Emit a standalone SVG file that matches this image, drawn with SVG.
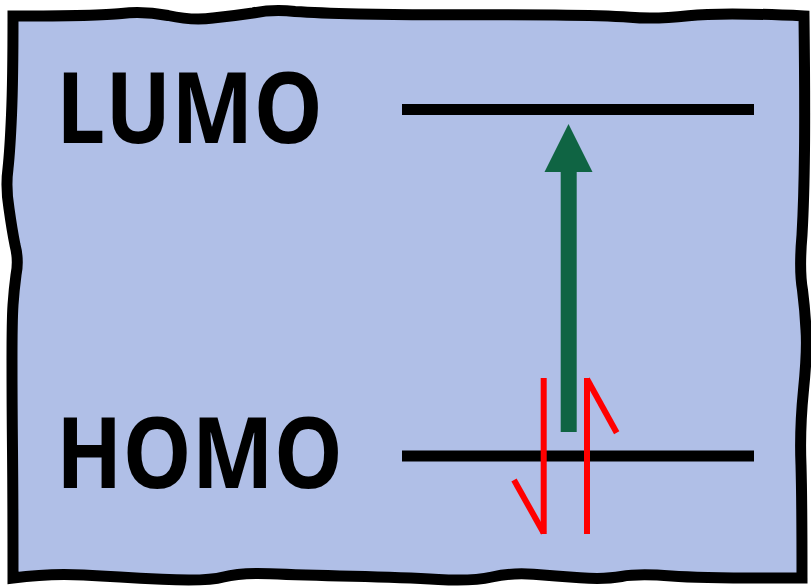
<svg xmlns="http://www.w3.org/2000/svg" width="811" height="587" viewBox="0 0 811 587">
  <defs>
    <style>
      .lbl { font-family: "Open Sans", "Noto Sans", "Liberation Sans", sans-serif; font-weight: 700; font-size: 98px; fill: #000; }
      .level { stroke: #000; stroke-width: 11; fill: none; }
      .spin { stroke: #ff0000; stroke-width: 6; fill: none; stroke-linecap: butt; }
    </style>
  </defs>
  <rect width="811" height="587" fill="#ffffff"/>
  <g id="frame">
    <path d="M13,16 Q100,16 121.5,13.5 Q143,11 168,15.5 Q193,21 213,18 Q233,16 253,13 Q273,9 295,11.5 Q317,13 358.5,14 Q400,15 452.5,14.75 Q505,14.5 555,15 Q605,15.5 630,17.25 Q655,19.5 688.5,15.75 Q722,12 804,16 Q805,100 804.5,150 Q804,200 802,235 Q799,270 802.5,290 Q805,310 806,330 Q807.5,350 803.5,390 Q799.5,430 801,465 Q802,500 802,578 Q705,578.5 671.5,576 Q638,573.5 621.5,576.5 Q605,579.5 580,577.75 Q555,576 533.5,574.25 Q512,572.5 492,577 Q472,581.5 438.5,579.5 Q405,577.5 352.5,576.25 Q300,575 270,573.75 Q240,572.5 223.5,577 Q207,581.5 162,579.25 Q117,577 83.5,575 Q50,573 13,578 Q13,500 12.5,450 Q12,400 12,360 Q12,320 13,305 Q14,290 16,275 Q19,260 15,245 Q12,230 9,208.5 Q5.5,187 8,168.5 Q10,150 11.5,115 Q13,80 13,16 Z" fill="#b0bfe7" stroke="#000" stroke-width="11" stroke-linejoin="miter"/>
  </g>
  <g id="lumo">
    <text class="lbl" x="56" y="143" textLength="267" lengthAdjust="spacingAndGlyphs">LUMO</text>
    <line class="level" x1="402" y1="109.5" x2="754" y2="109.5"/>
  </g>
  <g id="homo">
    <text class="lbl" x="56" y="488" textLength="287" lengthAdjust="spacingAndGlyphs">HOMO</text>
    <line class="level" x1="402" y1="456" x2="754" y2="456"/>
  </g>
  <g id="electrons">
    <line class="spin" x1="543.7" y1="378" x2="543.7" y2="534"/>
    <line class="spin" x1="543.7" y1="533" x2="514" y2="480"/>
    <line class="spin" x1="587" y1="534" x2="587" y2="378"/>
    <line class="spin" x1="587" y1="379" x2="616.7" y2="432.7"/>
  </g>
  <g id="connectors">
    <line x1="568.7" y1="432" x2="568.7" y2="165" stroke="#0f6443" stroke-width="16"/>
    <polygon points="568.5,124 592.5,172 544.5,172" fill="#0f6443"/>
  </g>
</svg>
